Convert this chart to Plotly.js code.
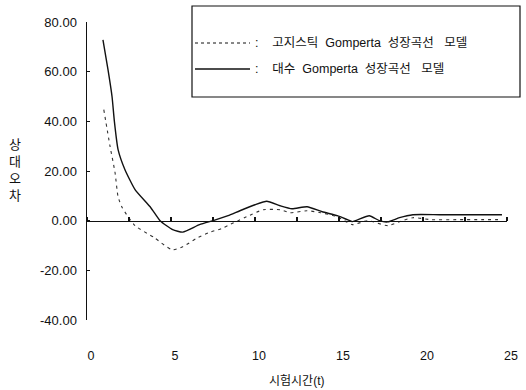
<!DOCTYPE html>
<html>
<head>
<meta charset="utf-8">
<script src="https://cdn.plot.ly/plotly-3.0.1.min.js"></script>
<style>html,body{margin:0;padding:0;background:#fff;}#chart{width:526px;height:390px;}</style>
</head>
<body>
<div id="chart"></div>
<script>
// ---- data ----
const S = '\u00a0';
const seriesNames = [
  ':' + S.repeat(4) + '고지스틱' + S.repeat(2) + 'Gomperta' + S.repeat(2) + '성장곡선' + S.repeat(3) + '모델',
  ':' + S.repeat(4) + '대수' + S.repeat(2) + 'Gomperta' + S.repeat(2) + '성장곡선' + S.repeat(3) + '모델'
];
const yTitleText = '상<br>대<br>오<br>차';
const xTitleText = '시험시간(t)';

const tLogistic = [1.0, 1.37, 1.67, 1.85, 2.1, 2.86, 4.0, 5.06, 5.7, 6.5, 7.3, 8.0, 8.5, 9.0, 9.5, 10.5, 11.5, 12.1, 13.1, 13.9, 14.9, 15.8, 16.7, 17.9, 18.6, 19.4, 20.5, 22.0, 23.5, 24.7];
const vLogistic = [44.7, 30.0, 19.3, 9.7, 5.2, -2.0, -6.8, -11.7, -10.5, -7.2, -4.7, -3.2, -1.6, 0.0, 1.6, 4.4, 4.4, 3.2, 4.0, 3.2, 1.6, -1.6, 0.0, -2.0, -0.4, 1.2, 0.4, 0.4, 0.4, 0.4];

const tLog = [0.95, 1.25, 1.49, 1.63, 1.85, 2.26, 2.86, 3.8, 4.35, 5.1, 5.7, 6.7, 7.6, 8.4, 9.1, 10.0, 10.7, 11.5, 12.2, 13.1, 14.0, 14.9, 15.5, 15.8, 16.8, 17.4, 17.9, 18.6, 19.4, 21.0, 23.0, 24.7];
const vLog = [72.8, 60.8, 50.0, 40.0, 28.6, 20.5, 12.5, 5.2, 0.0, -3.6, -4.6, -1.6, 0.2, 2.0, 4.0, 6.4, 7.8, 6.0, 4.8, 5.6, 3.6, 2.0, 0.4, -0.4, 2.0, 0.0, -0.5, 1.2, 2.4, 2.4, 2.4, 2.4];

const xTickVals = [0, 5, 10, 15, 20, 25];
const yTickVals = [-40, -20, 0, 20, 40, 60, 80];
const yTickText = ['-40.00', '-20.00', '0.00', '20.00', '40.00', '60.00', '80.00'];

// ---- layout helpers (pixel -> paper) ----
const W = 526, H = 390;
const M = {l: 87, r: 19, t: 22, b: 70};
const PW = W - M.l - M.r, PH = H - M.t - M.b;
const px = x => (x - M.l) / PW;
const py = y => (H - M.b - y) / PH;

const baseFont = 'Liberation Sans, Arial, Noto Sans CJK KR, sans-serif';
const krFont = 'Liberation Sans, Noto Sans CJK KR, sans-serif';

const traces = [
  {x: tLogistic, y: vLogistic, name: seriesNames[0], xaxis: 'x2', yaxis: 'y', mode: 'lines',
   line: {color: '#333', width: 1.1, dash: '3px,4px', shape: 'spline', smoothing: 0.6}, showlegend: false, hoverinfo: 'skip'},
  {x: tLog, y: vLog, name: seriesNames[1], xaxis: 'x', yaxis: 'y', mode: 'lines',
   line: {color: '#111', width: 1.4, shape: 'spline', smoothing: 0.5}, showlegend: false, hoverinfo: 'skip'}
];

const legendY = [43, 69];
const legendDash = ['3px,3px', 'solid'];
const shapes = [
  {type: 'rect', xref: 'paper', yref: 'paper', x0: px(192), x1: px(520), y0: py(97), y1: py(6),
   line: {color: '#111', width: 1.2}, fillcolor: 'rgba(0,0,0,0)'}
];
const annotations = [
  {text: yTitleText, xref: 'paper', yref: 'paper', x: px(15), y: py(170), xanchor: 'center', yanchor: 'middle', showarrow: false,
   font: {family: krFont, size: 13, color: '#111'}, align: 'center'},
  {text: xTitleText, xref: 'paper', yref: 'paper', x: px(297), y: py(381), xanchor: 'center', yanchor: 'middle', showarrow: false,
   font: {family: krFont, size: 12, color: '#111'}}
];
seriesNames.forEach((n, i) => {
  shapes.push({type: 'line', xref: 'paper', yref: 'paper', x0: px(195), x1: px(250), y0: py(legendY[i]), y1: py(legendY[i]),
    line: {color: '#111', width: i === 0 ? 1 : 1.3, dash: legendDash[i]}});
  annotations.push({text: n, xref: 'paper', yref: 'paper', x: px(253), y: py(legendY[i]), xanchor: 'left', yanchor: 'middle',
    showarrow: false, font: {family: krFont, size: 12.5, color: '#111'}});
});

const layout = {
  width: W, height: H,
  margin: M,
  paper_bgcolor: '#fff', plot_bgcolor: '#fff',
  font: {family: baseFont, size: 13, color: '#111'},
  showlegend: false,
  xaxis: {range: [0, 25], tickvals: xTickVals, ticks: '', showline: false, showgrid: false, zeroline: false,
    ticklabelstandoff: 26, ticklabelshift: 4, tickfont: {size: 12.5}, fixedrange: true},
  xaxis2: {range: [0, 25], overlaying: 'x', anchor: 'free', position: 1/3, side: 'top',
    showline: true, linecolor: '#111', linewidth: 1.5, ticks: 'outside', ticklen: 4, tickwidth: 1.2, tickcolor: '#111',
    tick0: 0, dtick: 2.5, showticklabels: false, showgrid: false, zeroline: false},
  yaxis: {range: [-40, 80], tickvals: yTickVals, ticktext: yTickText, showline: true, linecolor: '#111', linewidth: 1.5,
    ticks: 'inside', ticklen: 3, tickcolor: '#111', showgrid: false, zeroline: false, ticklabelstandoff: 6,
    tickfont: {size: 13}},
  shapes: shapes,
  annotations: annotations
};

Plotly.newPlot('chart', traces, layout, {staticPlot: true});
</script>
</body>
</html>
